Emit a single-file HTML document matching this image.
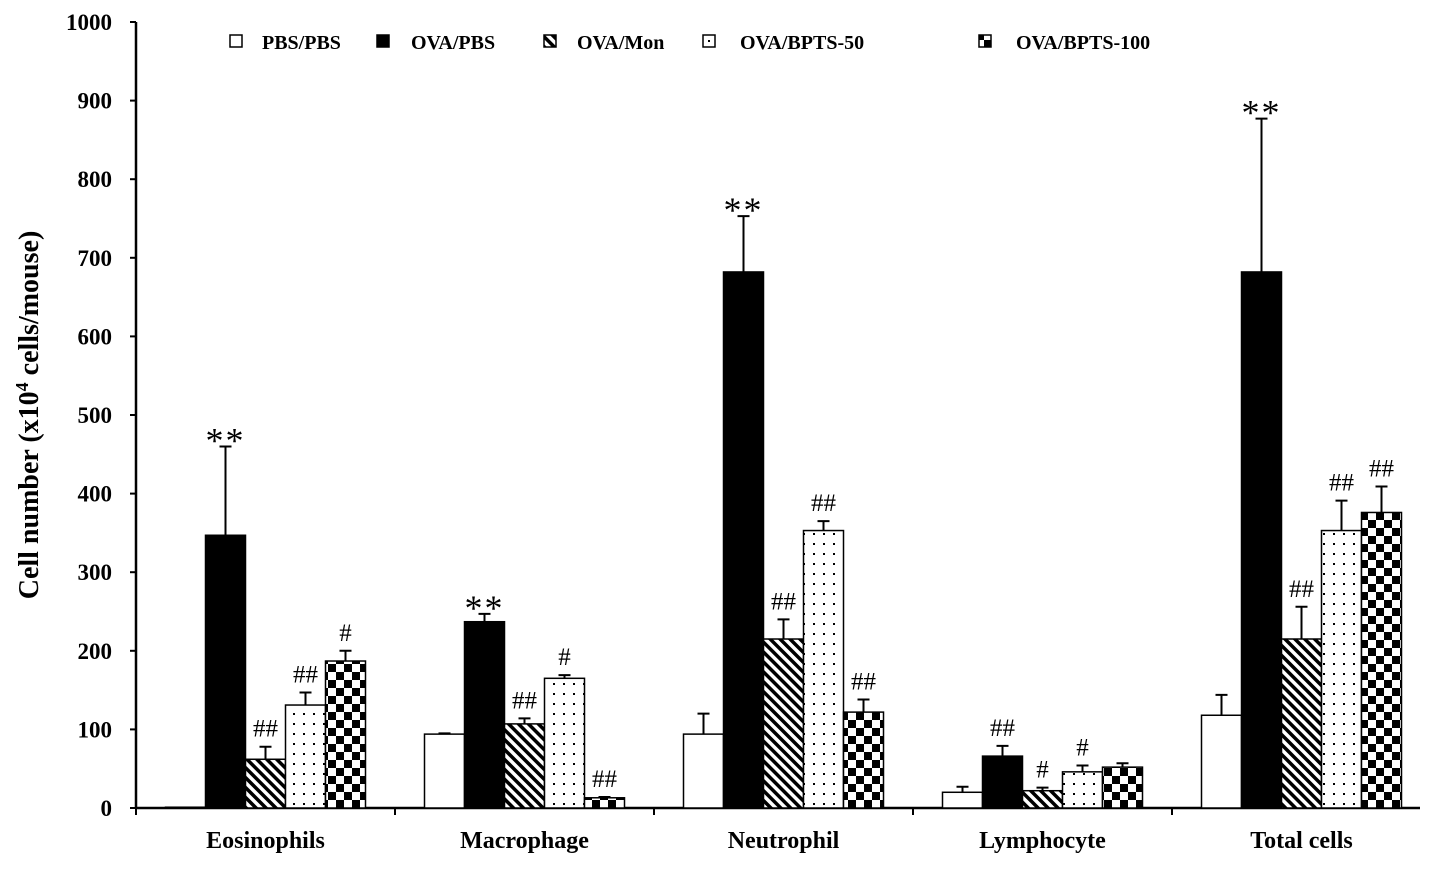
<!DOCTYPE html>
<html><head><meta charset="utf-8"><style>
body{margin:0;background:#fff;}
svg text{font-family:"Liberation Serif",serif;font-weight:bold;fill:#000;}
</style></head><body>
<svg id="chart" width="1441" height="866" xmlns="http://www.w3.org/2000/svg">
<defs>
<pattern id="p-diag" width="7" height="7" patternUnits="userSpaceOnUse" patternTransform="rotate(-45)"><rect width="7" height="7" fill="#fff"/><rect width="3.5" height="7" fill="#000"/></pattern>
<pattern id="p-dots" width="10" height="10" patternUnits="userSpaceOnUse"><rect width="10" height="10" fill="#fff"/><rect x="3" y="3" width="2" height="2" fill="#000"/></pattern>
<pattern id="p-check" width="16" height="16" patternUnits="userSpaceOnUse"><rect width="16" height="16" fill="#fff"/><rect width="8" height="8" fill="#000"/><rect x="8" y="8" width="8" height="8" fill="#000"/></pattern>
</defs>
<g id="plot"></g>
</svg>
<script>
const categories=["Eosinophils","Macrophage","Neutrophil","Lymphocyte","Total cells"];
const seriesNames=["PBS/PBS","OVA/PBS","OVA/Mon","OVA/BPTS-50","OVA/BPTS-100"];
const pbsPbs=[1,94,94,20,118];
const ovaPbs=[347,237,682,66,682];
const ovaMon=[62,107,215,22,215];
const bpts50=[131,165,353,46,353];
const bpts100=[187,13,122,52,376];
const errPbsPbs=[0,1,26,7,26];
const errOvaPbs=[113,10,71,13,195];
const errOvaMon=[16,7,25,4,41];
const errBpts50=[16,4,12,8,38];
const errBpts100=[13,1,16,5,33];
const marksOvaPbs=["**","**","**","##","**"];
const marksOvaMon=["##","##","##","#","##"];
const marksBpts50=["##","#","##","#","##"];
const marksBpts100=["#","##","##","","##"];
const yTicks=[0,100,200,300,400,500,600,700,800,900,1000];

const NS="http://www.w3.org/2000/svg";
const g=document.getElementById('plot');
const x0=136,catW=259,barW=40,y0=808,yTop=22;
const y=v=>y0-(v/1000)*(y0-yTop);
function el(tag,attrs,parent){const e=document.createElementNS(NS,tag);for(const k in attrs)e.setAttribute(k,attrs[k]);(parent||g).appendChild(e);return e;}
const series=[pbsPbs,ovaPbs,ovaMon,bpts50,bpts100];
const errs=[errPbsPbs,errOvaPbs,errOvaMon,errBpts50,errBpts100];
const marks=[null,marksOvaPbs,marksOvaMon,marksBpts50,marksBpts100];
const fills=["#fff","#000","url(#p-diag)","url(#p-dots)","url(#p-check)"];

const ya=el('line',{x1:x0,y1:yTop,x2:x0,y2:y0+1,stroke:'#000','stroke-width':2.5});


const xa=el('line',{x1:x0-1,y1:y0,x2:1420,y2:y0,stroke:'#000','stroke-width':2.5});


yTicks.forEach(t=>{
  const tk=el('line',{x1:x0-6,y1:y(t),x2:x0,y2:y(t),stroke:'#000','stroke-width':2});
  
  
  const tl=el('text',{x:112,y:y(t)+8,'text-anchor':'end','font-size':23});
  tl.textContent=t;
  
  
});
for(let i=0;i<=categories.length;i++){
  const xx=x0+i*catW; if(xx>1420)continue;
  const tk=el('line',{x1:xx,y1:y0,x2:xx,y2:y0+7,stroke:'#000','stroke-width':2});
  
  
}
categories.forEach((c,i)=>{
  const tl=el('text',{x:x0+i*catW+catW/2,y:848,'text-anchor':'middle','font-size':24});
  tl.textContent=c;
  
  
  series.forEach((s,j)=>{
    const bx=x0+i*catW+catW/2-2.5*barW+j*barW;
    const top=y(s[i]);
    const r=el('rect',{x:bx,y:top,width:barW,height:Math.max(y0-top,0.5),fill:fills[j],stroke:'#000','stroke-width':1.5});
    
    
    const e=errs[j][i];
    if(e>0){
      const et=y(s[i]+e);
      const eb=el('path',{d:`M${bx+barW/2},${top} V${et} M${bx+barW/2-6},${et} H${bx+barW/2+6}`,stroke:'#000','stroke-width':2,fill:'none'});
      
      
    }
    if(marks[j]&&marks[j][i]){
      const star=marks[j][i]==="**";
      const mt=el('text',{x:bx+barW/2,y:y(s[i]+e)-(star?-6:10),'text-anchor':'middle','font-size':star?36:25});
      mt.setAttribute('style','font-weight:normal');
      mt.textContent=marks[j][i];
      if(star)mt.setAttribute('letter-spacing','2');
      
      
    }
  });
});
const yt=el('text',{x:0,y:0,'text-anchor':'middle','font-size':28,transform:'translate(38,415) rotate(-90)'});
yt.innerHTML='Cell number (x10<tspan font-size="18" dy="-10">4</tspan><tspan dy="10"> cells/mouse)</tspan>';


const lgBox=[230,377,544,703,979], lgText=[262,411,577,740,1016];
seriesNames.forEach((n,j)=>{
  const lf=j===3?'#fff':fills[j];
  const b=el('rect',{x:lgBox[j],y:35,width:12,height:12,fill:lf,stroke:'#000','stroke-width':1.5});
  
  
  if(j===3){const d=el('rect',{x:lgBox[j]+5,y:40,width:2,height:2,fill:'#000'});}
  const t=el('text',{x:lgText[j],y:49,'font-size':20});
  t.textContent=n;
  
  
});
</script>
</body></html>
